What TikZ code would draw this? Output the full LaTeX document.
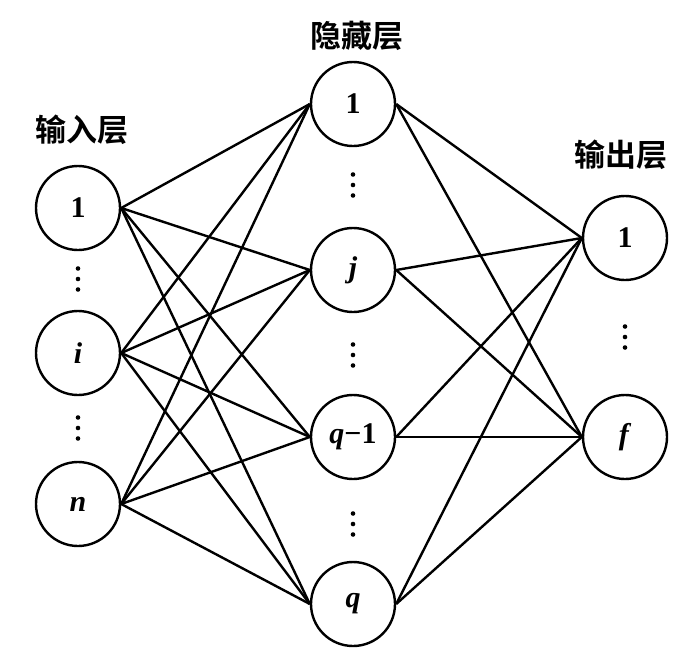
\documentclass[tikz,border=0pt]{standalone}
\usepackage{fontspec}
\setmainfont{Liberation Serif}
\newfontfamily\cjk{Noto Sans CJK SC}[BoldFont={Noto Sans CJK SC Bold}]
\begin{document}
\begin{tikzpicture}[x=1pt,y=-1pt,
  neuron/.style={draw,circle,line width=2.4pt,minimum size=84pt,inner sep=0pt,font=\fontsize{30}{34}\selectfont\bfseries},
  layerlabel/.style={font=\cjk\bfseries\fontsize{31}{35}\selectfont,inner sep=0pt},
  conn/.style={line width=2.4pt},
  dotpt/.style={fill=black}]
\useasboundingbox (0,0) rectangle (700,653);
% layer labels
\node[layerlabel] (lin) at (82,130) {输入层};
\node[layerlabel] (lhid) at (357,36) {隐藏层};
\node[layerlabel] (lout) at (621,155) {输出层};
% input
\node[neuron] (i1) at (78,208) {1};
\node[neuron] (ii) at (78,353) {\textit{i}};
\node[neuron] (in) at (78,504) {\textit{n}};
% hidden
\node[neuron] (h1) at (353,104) {1};
\node[neuron] (hj) at (353,270) {\textit{j}};
\node[neuron] (hq1) at (353,437) {\textit{q}−1};
\node[neuron] (hq) at (353,604) {\textit{q}};
% output
\node[neuron] (o1) at (625,238) {1};
\node[neuron] (of) at (625,437) {\textit{f}};
% connections
\foreach \a in {i1,ii,in}
  \foreach \b in {h1,hj,hq1,hq}
    \draw[conn] (\a.east) -- (\b.west);
\foreach \a in {h1,hj,hq1,hq}
  \foreach \b in {o1,of}
    \draw[conn] (\a.east) -- (\b.west);
% vertical dots
\foreach \x/\y in {78/279,78/428,353/185,353/355,353/524,625/337}
  \foreach \d in {-10.5,0,10.5}
    \fill[dotpt] (\x,\y+\d) circle (2.3pt);
\end{tikzpicture}
\end{document}
